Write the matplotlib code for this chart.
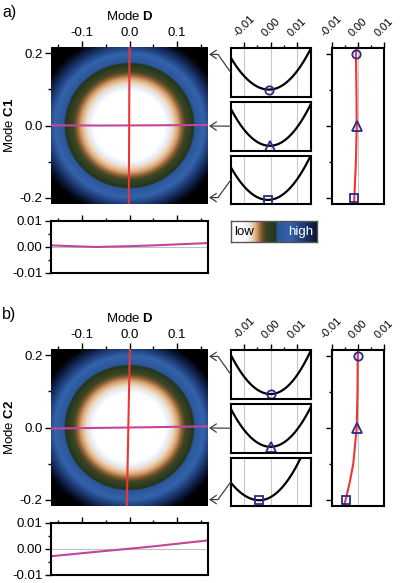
import numpy as np
import matplotlib
matplotlib.use("Agg")
import matplotlib.pyplot as plt
from matplotlib.colors import LinearSegmentedColormap
from matplotlib.patches import FancyArrowPatch
from matplotlib.path import Path

plt.rcParams['font.family'] = ['Liberation Sans', 'DejaVu Sans']
plt.rcParams['mathtext.fontset'] = 'custom'
plt.rcParams['mathtext.rm'] = 'Liberation Sans'
plt.rcParams['mathtext.bf'] = 'Liberation Sans:bold'

W, H = 400, 583

# ---- data ----
d_lim = 0.165          # half range of mode D in the maps
c_lim = 0.218          # half range of mode C in the maps
well_d = 0.199         # width of the energy well along D
well_c = 0.254         # width of the energy well along C

# minimum path C(D), magenta line + lower panel
d_path = [-0.165, -0.12, -0.07, 0.0, 0.05, 0.1, 0.165]
c_on_d_a = [0.0005, 0.0002, -0.0001, 0.0002, 0.0005, 0.0009, 0.0014]
c_on_d_b = [-0.0029, -0.0021, -0.0012, 0.0, 0.0009, 0.0019, 0.0032]

# minimum path D(C), red line in right panel
c_path = [0.218, 0.2, 0.1, 0.0, -0.1, -0.15, -0.2, -0.218]
d_on_c_a = [-0.0005, -0.0007, -0.0005, -0.0004, -0.0007, -0.0010, -0.0013, -0.0014]
d_on_c_b = [0.0001, 0.0, -0.0001, -0.0004, -0.0017, -0.0030, -0.0046, -0.0053]
marker_idx = [1, 3, 6]   # points at C = 0.2, 0.0, -0.2

# red line drawn over the maps (ends at top / bottom)
c_red_img = [0.218, -0.218]
d_red_img_a = [0.0, -0.0014]
d_red_img_b = [0.0007, -0.0056]

# energy cuts along D at C = 0.2, 0.0, -0.2 (normalised energy)
cut_min_d_a = [-0.0006, -0.0003, -0.0010]
cut_min_e_a = [0.15, 0.10, 0.085]
cut_left_e_a = [0.80, 0.86, 0.77]
cut_right_e_a = [0.97, 0.94, 1.00]
cut_min_d_b = [0.0, 0.0, -0.0042]
cut_min_e_b = [0.10, 0.12, 0.12]
cut_left_e_b = [0.90, 0.90, 0.49]
cut_right_e_b = [0.97, 0.92, 1.47]
cut_edge = 0.015
markers = ['o', '^', 's']

cmap = LinearSegmentedColormap.from_list('energy', [
    (0.0, '#ffffff'), (0.14, '#ffffff'), (0.18, '#e6edf6'), (0.21, '#f1dbc2'),
    (0.26, '#d8a678'), (0.31, '#8c5b2d'), (0.35, '#3e4727'), (0.46, '#23351a'),
    (0.48, '#2b569a'), (0.62, '#3463ab'), (0.75, '#1d3b75'), (0.88, '#0b1736'),
    (1.0, '#000000')])
cmap.set_over('#000000')

red = '#ee3535'
magenta = '#c4449c'
navy = '#2b2b8c'
arrow_col = '#404040'

fig = plt.figure(figsize=(W / 100, H / 100), dpi=100)


def box(x0, y0, x1, y1):
    return [x0 / W, 1 - y1 / H, (x1 - x0) / W, (y1 - y0) / H]


def fpt(x, y):
    return (x / W, 1 - y / H)


def panel(off, label, ylab, c_on_d, d_on_c, d_red_img,
          mind, mine, lefte, righte):
    # main map
    ax = fig.add_axes(box(51, 47 + off, 208, 204 + off))
    dd = np.linspace(-d_lim, d_lim, 400)
    cc = np.linspace(-c_lim, c_lim, 400)
    D, C = np.meshgrid(dd, cc)
    E = (D / well_d) ** 2 + (C / well_c) ** 2
    ax.imshow(E, extent=[-d_lim, d_lim, -c_lim, c_lim], origin='lower',
              cmap=cmap, vmin=0, vmax=1, aspect='auto', interpolation='bilinear')
    ax.plot(d_path, c_on_d, color=magenta, lw=1.5)
    ax.plot(d_red_img, c_red_img, color=red, lw=1.5)
    ax.set_xlim(-d_lim, d_lim)
    ax.set_ylim(-c_lim, c_lim)
    ax.xaxis.tick_top()
    ax.xaxis.set_label_position('top')
    ax.set_xticks([-0.1, 0, 0.1])
    ax.set_xticklabels(['-0.1', '0.0', '0.1'])
    ax.set_xticks([-0.15, -0.05, 0.05, 0.15], minor=True)
    ax.set_yticks([-0.2, 0, 0.2])
    ax.set_yticklabels(['-0.2', '0.0', '0.2'])
    ax.set_yticks([-0.1, 0.1], minor=True)
    ax.tick_params(which='both', direction='out', width=1, labelsize=9.5, pad=2)
    ax.tick_params(which='major', length=4)
    ax.tick_params(which='minor', length=2.5)
    for s in ax.spines.values():
        s.set_visible(False)
    ax.set_xlabel(r'Mode $\mathbf{D}$', fontsize=9.5, labelpad=5)
    ax.set_ylabel('Mode $\\mathbf{' + ylab + '}$', fontsize=9.5, labelpad=3)
    fig.text(2 / W, 1 - (13 + off) / H, label, fontsize=11.5, va='center', ha='left')

    # lower panel
    axl = fig.add_axes(box(51, 220.7 + off, 208, 272.7 + off))
    axl.axhline(0, color='#c0c0c0', lw=0.8)
    axl.plot(d_path, c_on_d, color=magenta, lw=1.5)
    axl.set_xlim(-d_lim, d_lim)
    axl.set_ylim(-0.01, 0.01)
    axl.xaxis.tick_top()
    axl.set_xticks([-0.1, 0, 0.1])
    axl.set_xticks([-0.15, -0.05, 0.05, 0.15], minor=True)
    axl.set_xticklabels([])
    axl.set_yticks([-0.01, 0, 0.01])
    axl.set_yticklabels(['-0.01', '0.00', '0.01'])
    axl.set_yticks([-0.005, 0.005], minor=True)
    axl.tick_params(which='both', direction='out', width=1, labelsize=9.5, pad=2)
    axl.tick_params(which='major', length=4)
    axl.tick_params(which='minor', length=2.5)
    for s in axl.spines.values():
        s.set_linewidth(1.5)

    # energy cuts
    tops = [47.7, 101.7, 156]
    bots = [97, 150.7, 204]
    targets = [0.2, 0.0, -0.2]
    for i in range(3):
        axb = fig.add_axes(box(230.7, tops[i] + off, 310.5, bots[i] + off))
        x = np.linspace(-cut_edge, cut_edge, 301)
        kl = (lefte[i] - mine[i]) / (-cut_edge - mind[i]) ** 2
        kr = (righte[i] - mine[i]) / (cut_edge - mind[i]) ** 2
        k = np.where(x < mind[i], kl, kr)
        y = mine[i] + k * (x - mind[i]) ** 2
        for g in [-0.01, 0, 0.01]:
            axb.axvline(g, color='#c8c8c8', lw=0.8)
        axb.plot(x, y, color='black', lw=1.6)
        axb.plot([mind[i]], [mine[i]], marker=markers[i], mfc='none', mec=navy,
                 mew=1.3, ms=6.5 if markers[i] == '^' else 6, clip_on=False)
        axb.set_xlim(-cut_edge, cut_edge)
        axb.set_ylim(0, 1)
        axb.set_yticks([])
        for s in axb.spines.values():
            s.set_linewidth(1.5)
        if i == 0:
            axb.xaxis.tick_top()
            axb.set_xticks([-0.01, 0, 0.01])
            axb.set_xticklabels(['-0.01', '0.00', '0.01'], rotation=45, ha='center')
            axb.set_xticks([-0.005, 0.005], minor=True)
            axb.tick_params(which='both', direction='out', width=1, labelsize=8, pad=3)
            axb.tick_params(which='major', length=4)
            axb.tick_params(which='minor', length=2.5)
        else:
            axb.set_xticks([])

        # arrow from the cut back to the map
        yb = (tops[i] + bots[i]) / 2 + off
        yt = 126 - targets[i] * 358 + off
        if i == 1:
            verts = [fpt(230.7, yb), fpt(209, yt)]
        else:
            verts = [fpt(230.7, yb), fpt(218, yt), fpt(209, yt)]
        arr = FancyArrowPatch(path=Path(verts), arrowstyle='->,head_length=0.45,head_width=0.3',
                              mutation_scale=10, color=arrow_col, lw=0.9,
                              transform=fig.transFigure)
        fig.add_artist(arr)

    # minimum path D(C)
    axr = fig.add_axes(box(331.5, 47.7 + off, 384, 204 + off))
    axr.axvline(0, color='#c8c8c8', lw=0.8)
    axr.plot(d_on_c, c_path, color=red, lw=1.5)
    for j, m in zip(marker_idx, markers):
        axr.plot([d_on_c[j]], [c_path[j]], marker=m, mfc='none', mec=navy,
                 mew=1.3, ms=6.5 if m == '^' else 6)
    axr.set_xlim(-0.01, 0.01)
    axr.set_ylim(-c_lim, c_lim)
    axr.xaxis.tick_top()
    axr.set_xticks([-0.01, 0, 0.01])
    axr.set_xticklabels(['-0.01', '0.00', '0.01'], rotation=45, ha='center')
    axr.set_xticks([-0.005, 0.005], minor=True)
    axr.set_yticks([-0.2, 0, 0.2])
    axr.set_yticklabels([])
    axr.set_yticks([-0.1, 0.1], minor=True)
    axr.tick_params(which='both', direction='out', width=1, labelsize=8, pad=3)
    axr.tick_params(which='major', length=4)
    axr.tick_params(which='minor', length=2.5)
    for s in axr.spines.values():
        s.set_linewidth(1.5)


panel(0, 'a)', 'C1', c_on_d_a, d_on_c_a, d_red_img_a,
      cut_min_d_a, cut_min_e_a, cut_left_e_a, cut_right_e_a)
panel(302, 'b)', 'C2', c_on_d_b, d_on_c_b, d_red_img_b,
      cut_min_d_b, cut_min_e_b, cut_left_e_b, cut_right_e_b)

# colour scale
axc = fig.add_axes(box(230.5, 220.5, 317, 242))
axc.imshow(np.linspace(0, 0.9, 256)[None, :], cmap=cmap, vmin=0, vmax=1,
           aspect='auto', extent=[0, 1, 0, 1])
axc.text(0.04, 0.45, 'low', color='black', fontsize=9.5, va='center', ha='left')
axc.text(0.96, 0.45, 'high', color='white', fontsize=9.5, va='center', ha='right')
axc.set_xticks([])
axc.set_yticks([])
for s in axc.spines.values():
    s.set_color('#555555')
    s.set_linewidth(1)

fig.savefig('out.png', dpi=100)
